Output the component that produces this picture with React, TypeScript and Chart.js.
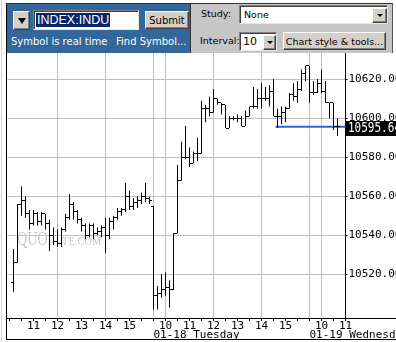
import React, { useEffect, useRef } from 'react';
import { Chart, registerables } from 'chart.js';

Chart.register(...registerables);

// 10-minute bar slots, counted from 09:30 of the first session (39 slots per session)
const barSlots = [
  4, 5, 6, 7, 8, 9, 10, 11, 12, 13, 14, 15, 16, 17, 18, 19, 20, 21, 22, 23,
  24, 25, 26, 27, 28, 29, 30, 31, 32, 33, 34, 35, 36, 37, 38,
  39, 40, 41, 42, 43, 44, 45, 46, 47, 48, 49, 50, 51, 52, 53, 54, 55, 56, 57, 58,
  59, 60, 61, 62, 63, 64, 65, 66, 67, 68, 69, 70, 71, 72, 73, 74, 75, 76, 77,
  78, 79, 80, 81, 82, 83, 84, 85,
];

const opens = [
  10516, 10526, 10556, 10558, 10551, 10546, 10551, 10547, 10551, 10546,
  10540, 10537, 10536, 10543, 10549, 10556, 10552, 10548, 10545, 10540,
  10545, 10541, 10542, 10544, 10540, 10547, 10549, 10552, 10553, 10560,
  10555, 10557, 10558, 10560, 10559,
  10555, 10509, 10510, 10512, 10513, 10512, 10541, 10568, 10580, 10580,
  10577, 10582, 10582, 10605, 10605, 10603, 10610, 10608, 10607, 10595,
  10600, 10600, 10600, 10596, 10601, 10606, 10606, 10610, 10610, 10610,
  10614, 10601, 10601, 10603, 10605, 10612, 10611, 10615, 10623,
  10627, 10613, 10613, 10618, 10614, 10608, 10608, 10596,
];

const highs = [
  10533, 10556, 10565, 10560, 10553, 10553, 10552, 10552, 10551, 10548,
  10544, 10543, 10544, 10551, 10561, 10557, 10553, 10549, 10546, 10546,
  10546, 10544, 10545, 10549, 10549, 10550, 10554, 10554, 10567, 10563,
  10559, 10560, 10562, 10567, 10560,
  10555, 10514, 10520, 10521, 10517, 10541, 10576, 10588, 10596, 10585,
  10583, 10590, 10609, 10607, 10611, 10615, 10610, 10608, 10607, 10601,
  10601, 10602, 10601, 10604, 10606, 10616, 10615, 10618, 10616, 10617,
  10620, 10605, 10606, 10606, 10613, 10618, 10619, 10625, 10627,
  10627, 10619, 10620, 10625, 10619, 10608, 10608, 10600,
];

const lows = [
  10511, 10526, 10550, 10549, 10543, 10545, 10545, 10545, 10543, 10532,
  10535, 10534, 10534, 10542, 10548, 10548, 10546, 10542, 10538, 10539,
  10538, 10540, 10539, 10531, 10538, 10543, 10548, 10550, 10552, 10553,
  10553, 10554, 10556, 10557, 10556,
  10502, 10502, 10508, 10509, 10503, 10512, 10541, 10568, 10579, 10575,
  10577, 10578, 10582, 10598, 10601, 10603, 10607, 10602, 10595, 10595,
  10599, 10598, 10596, 10596, 10601, 10605, 10605, 10605, 10609, 10606,
  10601, 10595, 10597, 10598, 10605, 10609, 10608, 10614, 10619,
  10608, 10612, 10613, 10613, 10608, 10600, 10594, 10591,
];

const closes = [
  10526, 10556, 10558, 10551, 10546, 10551, 10547, 10551, 10546, 10540,
  10537, 10536, 10543, 10549, 10556, 10552, 10548, 10545, 10540, 10545,
  10541, 10542, 10544, 10540, 10547, 10549, 10552, 10553, 10560, 10555,
  10557, 10558, 10560, 10559, 10558,
  10509, 10510, 10512, 10513, 10512, 10541, 10568, 10580, 10580, 10577,
  10582, 10582, 10605, 10605, 10603, 10610, 10608, 10607, 10595, 10600,
  10600, 10600, 10596, 10601, 10606, 10606, 10610, 10610, 10610, 10614,
  10601, 10601, 10603, 10605, 10612, 10611, 10615, 10623, 10627,
  10613, 10613, 10618, 10614, 10608, 10608, 10596, 10595.64,
];

// axis labels
const hourTickSlots = [9, 15, 21, 27, 33, 42, 48, 54, 60, 66, 72, 81, 87];
const hourTickLabels = ['11', '12', '13', '14', '15', '10', '11', '12', '13', '14', '15', '10', '11'];
const gridSlots = [15, 27, 39, 42, 54, 66, 78, 81];
const dayStartSlots = [39, 78];
const dayLabels = ['01-18 Tuesday', '01-19 Wednesday'];
const priceTicks = [10520, 10540, 10560, 10580, 10600, 10620];

// last price marker
const lastPrice = 10595.64;
const lastPriceFromSlot = 69.5;

const X_MIN = 2.375;
const X_MAX = 87;
const Y_MIN = 10497.59;
const Y_MAX = 10633.49;

const MONO = '"DejaVu Sans Mono", monospace';
const SANS = '"DejaVu Sans", Verdana, sans-serif';

const ohlcTicks = {
  id: 'ohlcTicks',
  afterDatasetsDraw(chart: any) {
    const { ctx, chartArea: a } = chart;
    const x = chart.scales.x;
    const y = chart.scales.y;
    ctx.save();
    ctx.beginPath();
    ctx.rect(a.left, a.top, a.right - a.left, a.bottom - a.top);
    ctx.clip();
    ctx.fillStyle = '#000';
    barSlots.forEach((s, i) => {
      const px = Math.floor(x.getPixelForValue(s));
      ctx.fillRect(px - 2, Math.floor(y.getPixelForValue(opens[i])), 2, 1);
      ctx.fillRect(px + 1, Math.floor(y.getPixelForValue(closes[i])), 2, 1);
    });
    ctx.restore();
  },
};

const priceTag = {
  id: 'priceTag',
  afterDraw(chart: any) {
    const { ctx, chartArea: a, width } = chart;
    const y = chart.scales.y;
    const py = Math.round(y.getPixelForValue(lastPrice));
    const left = Math.ceil(a.right);
    ctx.save();
    ctx.fillStyle = '#000';
    ctx.fillRect(left, py - 6, width - left, 15);
    ctx.fillStyle = '#fff';
    ctx.font = '11px ' + MONO;
    ctx.textBaseline = 'middle';
    ctx.textAlign = 'left';
    ctx.translate(left + 2, py + 1.5);
    ctx.scale(1, 1.3);
    ctx.fillText(lastPrice.toFixed(2), 0, 0);
    ctx.restore();
    // x-axis line continues under the price scale
    ctx.save();
    ctx.fillStyle = '#000';
    ctx.fillRect(Math.floor(a.right), Math.floor(a.bottom), width - Math.floor(a.right), 1);
    ctx.restore();
  },
};

const watermark = {
  id: 'watermark',
  beforeDatasetsDraw(chart: any) {
    const { ctx, chartArea: a } = chart;
    ctx.save();
    ctx.fillStyle = '#c8c8c8';
    ctx.textBaseline = 'alphabetic';
    ctx.font = '15px "Liberation Serif", serif';
    ctx.translate(a.left + 10, a.top + 192);
    ctx.save();
    ctx.scale(0.95, 1.3);
    ctx.fillText('QUO', 0, 0);
    ctx.restore();
    ctx.font = '10.5px "Liberation Serif", serif';
    ctx.save();
    ctx.scale(1, 1.2);
    ctx.fillText('TE.COM', 45, 0);
    ctx.restore();
    ctx.restore();
  },
};

const abs = (l: number, t: number, w: number, h: number, extra: React.CSSProperties = {}): React.CSSProperties => ({
  position: 'absolute', left: l, top: t, width: w, height: h, boxSizing: 'border-box', ...extra,
});

const btn3d: React.CSSProperties = {
  background: '#d4d0c8',
  borderTop: '1px solid #ffffff',
  borderLeft: '1px solid #ffffff',
  borderRight: '1px solid #404040',
  borderBottom: '1px solid #404040',
  boxShadow: 'inset -1px -1px 0 #808080',
  display: 'flex', alignItems: 'center', justifyContent: 'center',
  color: '#000', whiteSpace: 'nowrap',
};

const inset: React.CSSProperties = {
  background: '#ffffff',
  borderTop: '1px solid #808080',
  borderLeft: '1px solid #808080',
  borderRight: '1px solid #e8e8e8',
  borderBottom: '1px solid #e8e8e8',
  boxShadow: 'inset 1px 1px 0 #404040',
};

const tri = (w: number, h: number): React.CSSProperties => ({
  width: 0, height: 0,
  borderLeft: `${w / 2}px solid transparent`,
  borderRight: `${w / 2}px solid transparent`,
  borderTop: `${h}px solid #000`,
});

export default function App() {
  const ref = useRef<HTMLCanvasElement>(null);

  useEffect(() => {
    const canvas = ref.current!;
    const bars = barSlots.map((s, i) => ({ x: s, y: [lows[i], highs[i]] }));
    const chart = new Chart(canvas, {
      type: 'bar',
      data: {
        datasets: [
          {
            type: 'line',
            data: [{ x: lastPriceFromSlot, y: lastPrice }, { x: X_MAX, y: lastPrice }],
            borderColor: '#2f62de',
            borderWidth: 2,
            pointRadius: 0,
            order: 2,
            xAxisID: 'x',
            yAxisID: 'y',
          } as any,
          {
            type: 'bar',
            data: bars as any,
            backgroundColor: '#000',
            borderWidth: 0,
            barThickness: 1,
            inflateAmount: 0,
            order: 1,
            xAxisID: 'x',
            yAxisID: 'y',
          } as any,
        ],
      },
      options: {
        responsive: false,
        animation: false,
        devicePixelRatio: 1,
        events: [],
        layout: { padding: 0 },
        plugins: { legend: { display: false }, tooltip: { enabled: false } },
        scales: {
          x: {
            type: 'linear',
            position: 'bottom',
            min: X_MIN,
            max: X_MAX,
            offset: false,
            weight: 0,
            grid: {
              offset: false,
              color: (c: any) => (gridSlots.includes(c.tick?.value) ? '#c0c0c0' : 'rgba(0,0,0,0)'),
              tickColor: '#000',
              tickLength: 3,
              lineWidth: 1,
            },
            border: { color: '#000', width: 1 },
            ticks: {
              autoSkip: false,
              maxRotation: 0,
              minRotation: 0,
              padding: 0,
              color: '#000',
              font: { family: MONO, size: 11, lineHeight: 1 },
              callback: (v: any) => {
                const i = hourTickSlots.indexOf(Number(v));
                return i >= 0 ? hourTickLabels[i] : '';
              },
            },
            afterBuildTicks: (sc: any) => {
              const t: any[] = [];
              for (let s = 3; s <= X_MAX; s += 3) t.push({ value: s });
              sc.ticks = t;
            },
            afterFit: (sc: any) => {
              sc.height = 12;
              sc.paddingLeft = 0;
              sc.paddingRight = 0;
            },
          },
          x2: {
            type: 'linear',
            position: 'bottom',
            min: X_MIN,
            max: X_MAX,
            offset: false,
            weight: 1,
            grid: { display: false, drawTicks: false, tickLength: 0, offset: false },
            border: { display: false },
            ticks: {
              autoSkip: false,
              maxRotation: 0,
              minRotation: 0,
              padding: 0,
              align: 'start',
              color: '#000',
              font: { family: MONO, size: 11, lineHeight: 1 },
              callback: (v: any) => {
                const i = dayStartSlots.indexOf(Number(v));
                return i >= 0 ? dayLabels[i] : '';
              },
            },
            afterBuildTicks: (sc: any) => {
              sc.ticks = dayStartSlots.map((s) => ({ value: s }));
            },
            afterFit: (sc: any) => {
              sc.height = 12;
              sc.paddingLeft = 0;
              sc.paddingRight = 0;
            },
          },
          y: {
            type: 'linear',
            position: 'right',
            min: Y_MIN,
            max: Y_MAX,
            beginAtZero: false,
            grid: { color: '#c0c0c0', tickColor: '#000', tickLength: 2, lineWidth: 1 },
            border: { color: '#000', width: 1 },
            ticks: {
              padding: 1,
              color: '#000',
              font: { family: MONO, size: 11, lineHeight: 1 },
              callback: (v: any) => Number(v).toFixed(2),
            },
            afterBuildTicks: (sc: any) => {
              sc.ticks = priceTicks.map((v) => ({ value: v }));
            },
            afterFit: (sc: any) => {
              sc.width = 50.5;
              sc.paddingTop = 0;
              sc.paddingBottom = 0;
            },
          },
        },
      } as any,
      plugins: [watermark, ohlcTicks, priceTag],
    });
    return () => chart.destroy();
  }, []);

  const white: React.CSSProperties = { color: '#fff', fontFamily: SANS, fontSize: 10, lineHeight: '12px', whiteSpace: 'nowrap' };
  const dark: React.CSSProperties = { color: '#000', fontFamily: SANS, fontSize: 9.5, lineHeight: '12px', whiteSpace: 'nowrap' };

  return (
    <div style={abs(0, 0, 396, 342, { background: '#fff', overflow: 'hidden' })}>
      <div style={abs(1, 0, 1, 342, { background: '#d6d6d6' })} />
      {/* toolbar */}
      <div style={abs(6, 3, 387, 1, { background: '#333' })} />
      <div style={abs(7, 4, 183, 49, { background: '#336699' })} />
      <div style={abs(190, 4, 1, 49, { background: '#333' })} />
      <div style={abs(191, 4, 201, 49, { background: '#c6c6c6' })} />
      <div style={abs(392, 3, 1, 50, { background: '#555' })} />

      <div style={abs(13, 11, 17, 19, btn3d)}>
        <div style={tri(8, 6)} />
      </div>
      <div style={abs(33, 10, 106, 20, inset)}>
        <div style={{ position: 'absolute', left: 2, top: 2, height: 14, padding: '0 1px', background: '#0a246a', color: '#fff', fontFamily: '"Liberation Sans", Arial, sans-serif', fontSize: 12.5, lineHeight: '14px', whiteSpace: 'nowrap' }}>
          INDEX:INDU
        </div>
      </div>
      <div style={abs(145, 11, 44, 18, { ...btn3d, fontFamily: SANS, fontSize: 10 })}>Submit</div>
      <div style={abs(11, 36, 100, 12, white)}>Symbol is real time</div>
      <div style={abs(116, 36, 74, 12, white)}>Find Symbol...</div>

      <div style={abs(201, 8, 40, 12, dark)}>Study:</div>
      <div style={abs(239, 5, 149, 19, inset)}>
        <div style={{ position: 'absolute', left: 4, top: 3, ...dark }}>None</div>
        <div style={abs(132, 2, 15, 15, btn3d)}>
          <div style={tri(6, 3)} />
        </div>
      </div>
      <div style={abs(200, 35, 40, 12, dark)}>Interval:</div>
      <div style={abs(239, 32, 38, 19, inset)}>
        <div style={{ position: 'absolute', left: 3, top: 2, ...dark, fontSize: 11, lineHeight: '14px' }}>10</div>
        <div style={abs(23, 2, 13, 15, btn3d)}>
          <div style={tri(6, 3)} />
        </div>
      </div>
      <div style={abs(283, 32, 103, 18, { ...btn3d, fontFamily: SANS, fontSize: 9.5 })}>Chart style &amp; tools...</div>

      {/* chart frame */}
      <div style={abs(6, 4, 1, 336, { background: '#000' })} />
      <canvas ref={ref} width={389} height={289} style={{ position: 'absolute', left: 7, top: 53, width: 389, height: 289 }} />
      <div style={abs(6, 339, 390, 1, { background: '#000' })} />
    </div>
  );
}
